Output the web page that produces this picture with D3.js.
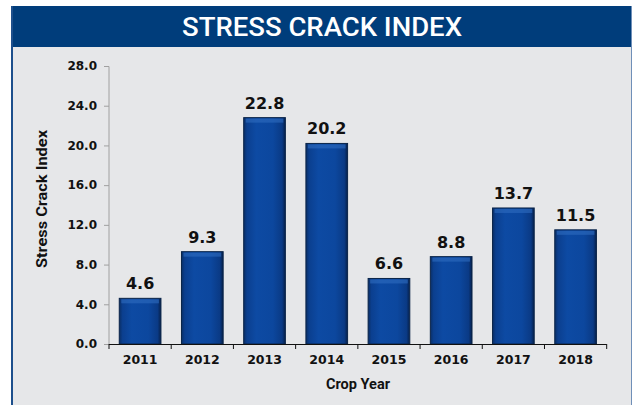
<!DOCTYPE html>
<html><head><meta charset="utf-8">
<script src="https://cdn.jsdelivr.net/npm/d3@7"></script>
<style>html,body{margin:0;padding:0;background:#fff;}svg{display:block;}</style>
</head><body>
<svg id="c" width="633" height="405"></svg>
<script>
const categories = ["2011","2012","2013","2014","2015","2016","2017","2018"];
const values = [4.6, 9.3, 22.8, 20.2, 6.6, 8.8, 13.7, 11.5];
const yTicks = [0, 4, 8, 12, 16, 20, 24, 28];
const title = "STRESS CRACK INDEX";
const xTitle = "Crop Year";
const yTitle = "Stress Crack Index";

const svg = d3.select("#c");
const W = 633, H = 405;
const FONT = "'DejaVu Sans', Verdana, sans-serif";
// frame
svg.append("rect").attr("x", 11).attr("y", 6).attr("width", 621).attr("height", H).attr("fill", "#e6e7e9");
svg.append("rect").attr("x", 11).attr("y", 6).attr("width", 621).attr("height", 41).attr("fill", "#003d7b");
svg.append("rect").attr("x", 11).attr("y", 6).attr("width", 2).attr("height", H).attr("fill", "#1d4f8c");
svg.append("rect").attr("x", 631).attr("y", 6).attr("width", 1).attr("height", H).attr("fill", "#6f8fb8");
svg.append("text").attr("x", 322).attr("y", 36).attr("text-anchor", "middle")
  .attr("fill", "#fff").attr("font-family", "Roboto, 'Liberation Sans Narrow', sans-serif")
  .attr("font-size", 25).attr("font-weight", 500).attr("textLength", 280).attr("lengthAdjust","spacingAndGlyphs").text(title);

const defs = svg.append("defs");
const g1 = defs.append("linearGradient").attr("id", "gh").attr("x1", 0).attr("x2", 1).attr("y1", 0).attr("y2", 0);
[[0,"#0a2f66"],[0.08,"#0b3f8f"],[0.3,"#0d4aa3"],[0.7,"#0c479e"],[0.92,"#0a3a85"],[1,"#06204a"]].forEach(([o,c]) => g1.append("stop").attr("offset", o).attr("stop-color", c));

const x = d3.scaleBand().domain(categories).range([109, 606.7]).paddingInner(0.33).paddingOuter(0.165);
const y = d3.scaleLinear().domain([0, 28]).range([344, 66]);

// y axis
const ya = svg.append("g").attr("transform", "translate(109,0)")
  .call(d3.axisLeft(y).tickValues(yTicks).tickFormat(d3.format(".1f")).tickSize(5).tickPadding(7));
ya.select(".domain").attr("stroke", "#a0a0a0").attr("d", "M-5,66.5H0V344");
ya.selectAll(".tick line").attr("stroke", "#a0a0a0");
ya.selectAll("text").attr("font-family", FONT).attr("font-weight", "bold").attr("font-size", 12).attr("fill", "#111");

// bars
const bars = svg.append("g");
categories.forEach((c, i) => {
  const bx = x(c), bw = x.bandwidth(), by = y(values[i]), bh = y(0) - y(values[i]);
  bars.append("rect").attr("x", bx).attr("y", by).attr("width", bw).attr("height", bh)
    .attr("fill", "url(#gh)").attr("stroke", "#0a2448").attr("stroke-width", 1);
  bars.append("rect").attr("x", bx + 2).attr("y", by + 1).attr("width", bw - 4).attr("height", 4)
    .attr("fill", "#2f6cc0").attr("opacity", 0.6);
  svg.append("text").attr("x", bx + bw / 2).attr("y", by - 9).attr("text-anchor", "middle")
    .attr("font-family", FONT).attr("font-weight", "bold").attr("font-size", 16)
    .attr("fill", "#111").text(values[i].toFixed(1));
});

// x axis
const xa = svg.append("g").attr("transform", "translate(0,344)")
  .call(d3.axisBottom(x).tickSize(0).tickPadding(11));
xa.select(".domain").attr("stroke", "#111").attr("d", "M109,0.5H606.7");
xa.selectAll("text").attr("font-family", FONT).attr("font-weight", "bold").attr("font-size", 12.5).attr("fill", "#111");
d3.range(categories.length + 1).forEach(i => {
  const tx = 109 + i * (606.7 - 109) / categories.length;
  xa.append("line").attr("x1", tx).attr("x2", tx).attr("y1", 0).attr("y2", 5).attr("stroke", "#111");
});

svg.append("text").attr("x", 358).attr("y", 389).attr("text-anchor", "middle")
  .attr("font-family", "Roboto, 'Liberation Sans', sans-serif").attr("font-weight", "bold").attr("font-size", 15)
  .attr("textLength", 64).attr("lengthAdjust", "spacingAndGlyphs").attr("fill", "#111").text(xTitle);
svg.append("text").attr("transform", "translate(47,199) rotate(-90)").attr("text-anchor", "middle")
  .attr("font-family", "Roboto, 'Liberation Sans', sans-serif").attr("font-weight", "bold").attr("font-size", 15)
  .attr("textLength", 138).attr("lengthAdjust", "spacingAndGlyphs").attr("fill", "#111").text(yTitle);
</script>
</body></html>
